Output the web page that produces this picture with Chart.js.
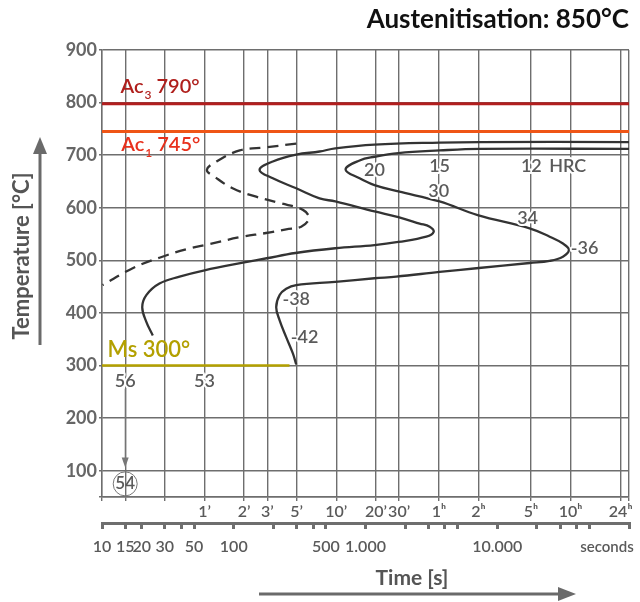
<!DOCTYPE html>
<html>
<head>
<meta charset="utf-8">
<script src="https://cdn.jsdelivr.net/npm/chart.js@4.4.1/dist/chart.umd.min.js"></script>
<style>
  html, body { margin: 0; padding: 0; background: #fff; }
  canvas { display: block; }
</style>
</head>
<body>
<canvas id="ttt" width="640" height="602"></canvas>
<script>
// time axis (seconds): grid lines + minute/hour labels
const gridTimes = [10, 15, 30, 60, 120, 180, 300, 600, 1200, 1800, 3600, 7200, 18000, 36000, 86400, 100000];
const gridLabels = ["", "", "", "1’", "2’", "3’", "5’", "10’", "20’", "30’", "1ʰ", "2ʰ", "5ʰ", "10ʰ", "24ʰ", ""];
// seconds scale under the grid
const secTicks = [10, 15, 20, 30, 40, 50, 100, 200, 300, 400, 500, 1000, 2000, 3000, 4000, 5000, 10000, 20000, 30000, 40000, 50000, 100000];
const secLabels = { 10: "10", 15: "15", 20: "20", 30: "30", 50: "50", 100: "100", 500: "500", 1000: "1.000", 10000: "10.000" };
const tempTicks = [50, 100, 200, 300, 400, 500, 600, 700, 800, 900];

// critical temperatures
const ac3Temp = 798;
const ac1Temp = 745;
const msTemp = 300;
const fullTime = [10, 100000];
const msTime = [10, 265];

// dashed curve
const dashTime = [298, 176, 111, 74, 62.5, 71.5, 98, 148, 223, 335, 372, 325, 250, 176, 111, 65.5, 43.6, 27.3, 17.1, 10.1];
const dashTemp = [722, 715, 709, 688, 672, 659, 637, 621, 609, 596, 580, 564, 559, 552, 544, 531, 521, 505, 485, 453];

// start of transformation
const startTime = [100000, 7350, 3650, 1170, 590, 448, 298, 198, 157, 198, 298, 448, 590, 1170, 1775, 2575, 3070, 3290, 2895, 1775, 1170, 590, 294, 178, 120, 60, 38.8, 27.3, 21.7, 20.2, 21.7, 24.3];
const startTemp = [725, 725, 724, 720, 713, 707, 701, 688, 672, 656, 637, 618, 612, 593, 582, 570, 564, 554, 545, 535, 529, 523, 514, 504, 496, 481, 469, 456, 434, 411, 383, 357];

// end of transformation
const endTime = [100000, 7350, 3650, 1775, 1170, 902, 706, 902, 1170, 1775, 3650, 7100, 17600, 25000, 31500, 35000, 31500, 25000, 17600, 6940, 3650, 1713, 1170, 590, 298, 250, 223, 210, 223, 250, 281, 298];
const endTemp = [712, 712, 709, 704, 697, 690, 673, 656, 643, 631, 612, 586, 561, 545, 532, 520, 507, 499, 495, 485, 478, 469, 466, 459, 453, 446, 434, 411, 386, 354, 323, 302];

// hardness labels
const hardText = ["20", "15", "12", "HRC", "30", "34", "-36", "-38", "-42", "56", "53"];
const hardTime = [1170, 3650, 18150, 34240, 3600, 17000, 46000, 298, 345, 15, 60];
const hardTemp = [671, 680, 680, 680, 631, 581, 523, 427, 353, 270, 270];
const finalHard = { text: "54", t: 15, T: 75, from: 256, to: 106 };

const GRID = "#6e6e6e";
const TXT = "#5a5a5a";
const FONT = "Lato, 'Open Sans', sans-serif";

const pts = (xs, ys) => xs.map((x, i) => ({ x: x, y: ys[i] }));

const annotate = {
  id: "annotate",
  afterDraw(chart) {
    const c = chart.ctx;
    const xs = chart.scales.x, ys = chart.scales.y;
    c.save();

    // hardness numbers
    c.font = "600 18px " + FONT;
    c.textAlign = "center";
    c.textBaseline = "middle";
    c.lineJoin = "round";
    hardText.forEach((s, i) => {
      const px = xs.getPixelForValue(hardTime[i]), py = ys.getPixelForValue(hardTemp[i]);
      c.strokeStyle = "#fff";
      c.lineWidth = 4;
      c.strokeText(s, px, py);
      c.fillStyle = TXT;
      c.fillText(s, px, py);
    });

    // arrow 56 -> 54 and circled value
    const ax = xs.getPixelForValue(finalHard.t);
    const ay1 = ys.getPixelForValue(finalHard.from), ay2 = ys.getPixelForValue(finalHard.to);
    c.strokeStyle = "#777";
    c.lineWidth = 1;
    c.beginPath(); c.moveTo(ax, ay1); c.lineTo(ax, ay2 - 8); c.stroke();
    c.fillStyle = "#777";
    c.beginPath(); c.moveTo(ax - 3.5, ay2 - 10); c.lineTo(ax + 3.5, ay2 - 10); c.lineTo(ax, ay2); c.closePath(); c.fill();
    const cy = ys.getPixelForValue(finalHard.T);
    c.beginPath(); c.arc(ax, cy, 12, 0, Math.PI * 2); c.stroke();
    c.fillStyle = TXT;
    c.font = "600 17px " + FONT;
    c.fillText(finalHard.text, ax, cy);

    // Ac / Ms labels
    c.textAlign = "left";
    c.textBaseline = "alphabetic";
    const sub = (x, y, a, s, b, size, col) => {
      c.fillStyle = col;
      c.font = "600 " + size + "px " + FONT;
      c.fillText(a, x, y);
      let w = c.measureText(a).width;
      c.font = "600 " + Math.round(size * 0.6) + "px " + FONT;
      c.fillText(s, x + w + 1, y + 6);
      w += c.measureText(s).width + 1;
      c.font = "600 " + size + "px " + FONT;
      c.fillText(b, x + w, y);
    };
    sub(xs.getPixelForValue(13.8), ys.getPixelForValue(819), "Ac", "3", " 790°", 20, "#b01f1c");
    sub(xs.getPixelForValue(14.0), ys.getPixelForValue(708), "Ac", "1", " 745°", 20, "#e8301c");
    c.fillStyle = "#b3a000";
    c.font = "600 22px " + FONT;
    c.fillText("Ms 300°", xs.getPixelForValue(11), ys.getPixelForValue(317));

    // axis titles and arrows
    c.fillStyle = "#555";
    c.font = "bold 21px " + FONT;
    c.textAlign = "center";
    c.textBaseline = "middle";
    c.fillText("Time [s]", 412, 578);
    c.font = "600 15px " + FONT;
    c.fillStyle = TXT;
    c.fillText("seconds", 607, 547);
    c.save();
    c.translate(22, 256);
    c.rotate(-Math.PI / 2);
    c.fillStyle = "#555";
    c.font = "bold 22px " + FONT;
    c.fillText("Temperature [°C]", 0, 0);
    c.restore();

    c.strokeStyle = "#6a6a6a";
    c.fillStyle = "#6a6a6a";
    c.lineWidth = 3;
    c.beginPath(); c.moveTo(40, 345); c.lineTo(40, 150); c.stroke();
    c.beginPath(); c.moveTo(33, 154); c.lineTo(47, 154); c.lineTo(40, 137); c.closePath(); c.fill();
    c.beginPath(); c.moveTo(259, 594); c.lineTo(562, 594); c.stroke();
    c.beginPath(); c.moveTo(558, 587); c.lineTo(558, 601); c.lineTo(576, 594); c.closePath(); c.fill();
    c.restore();
  }
};

new Chart(document.getElementById("ttt"), {
  type: "scatter",
  data: {
    datasets: [
      { data: pts(fullTime, [ac3Temp, ac3Temp]), borderColor: "#b21e1e", borderWidth: 3, showLine: true, tension: 0 },
      { data: pts(fullTime, [ac1Temp, ac1Temp]), borderColor: "#ef5516", borderWidth: 3, showLine: true, tension: 0 },
      { data: pts(msTime, [msTemp, msTemp]), borderColor: "#b3a000", borderWidth: 2.5, showLine: true, tension: 0 },
      { data: pts(dashTime, dashTemp), borderColor: "#333", borderWidth: 2.3, borderDash: [11, 7], showLine: true, tension: 0.4 },
      { data: pts(startTime, startTemp), borderColor: "#333", borderWidth: 2.3, showLine: true, tension: 0.4 },
      { data: pts(endTime, endTemp), borderColor: "#333", borderWidth: 2.3, showLine: true, tension: 0.4 }
    ]
  },
  options: {
    responsive: false,
    animation: false,
    devicePixelRatio: 1,
    layout: { padding: { left: 0, right: 11, top: 0, bottom: 0 } },
    elements: { point: { radius: 0 } },
    plugins: {
      legend: { display: false },
      tooltip: { enabled: false },
      title: {
        display: true,
        text: "Austenitisation: 850°C",
        align: "end",
        color: "#111",
        font: { family: FONT, size: 26, weight: "bold" },
        padding: { top: 4, bottom: 14.8 }
      }
    },
    scales: {
      x: {
        type: "logarithmic",
        position: "bottom",
        weight: 0,
        min: 10,
        max: 100000,
        afterBuildTicks: (s) => { s.ticks = gridTimes.map((v) => ({ value: v })); },
        afterFit: (s) => { s.height = 26; },
        grid: { color: GRID, lineWidth: 1.4, tickLength: 4 },
        border: { color: GRID, width: 1.4 },
        ticks: {
          autoSkip: false, maxRotation: 0, padding: 1, color: TXT,
          font: { family: FONT, size: 16, weight: "600" },
          callback: (v, i) => gridLabels[i]
        }
      },
      x2: {
        type: "logarithmic",
        position: "bottom",
        weight: 1,
        min: 10,
        max: 100000,
        afterBuildTicks: (s) => { s.ticks = secTicks.map((v) => ({ value: v })); },
        afterFit: (s) => { s.height = 79; },
        grid: { drawOnChartArea: false, color: GRID, lineWidth: 3, tickLength: 6 },
        border: { color: GRID, width: 3 },
        ticks: {
          autoSkip: false, maxRotation: 0, padding: 8, color: TXT,
          font: { family: FONT, size: 16, weight: "600" },
          callback: (v, i) => secLabels[secTicks[i]] || ""
        }
      },
      y: {
        min: 50,
        max: 900,
        afterBuildTicks: (s) => { s.ticks = tempTicks.map((v) => ({ value: v })); },
        afterFit: (s) => { s.width = 102; },
        grid: { color: GRID, lineWidth: 1.4, tickLength: 3 },
        border: { color: GRID, width: 1.4 },
        ticks: {
          padding: 2, color: "#666",
          font: { family: FONT, size: 18, weight: "bold" },
          callback: (v) => (v === 50 ? "" : v)
        }
      }
    }
  },
  plugins: [annotate]
});
</script>
</body>
</html>
